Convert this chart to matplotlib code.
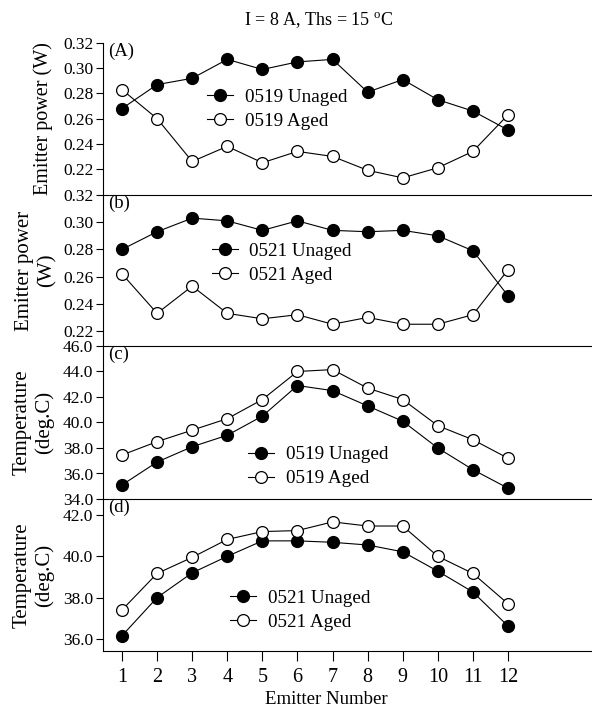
import numpy as np
import matplotlib
matplotlib.use('Agg')
import matplotlib.pyplot as plt

plt.rcParams['font.family'] = ['Liberation Serif', 'DejaVu Serif']
plt.rcParams['mathtext.fontset'] = 'custom'
plt.rcParams['mathtext.rm'] = 'Liberation Serif'

# Datos
emitter = np.arange(1, 13)

# (A) potencia 0519
pow_0519_unaged = [0.268, 0.287, 0.292, 0.307, 0.299, 0.305, 0.307, 0.281, 0.291, 0.275, 0.266, 0.251]
pow_0519_aged = [0.283, 0.260, 0.226, 0.238, 0.225, 0.234, 0.230, 0.219, 0.213, 0.221, 0.234, 0.263]

# (b) potencia 0521
pow_0521_unaged = [0.280, 0.293, 0.303, 0.301, 0.294, 0.301, 0.294, 0.293, 0.294, 0.290, 0.279, 0.246]
pow_0521_aged = [0.262, 0.233, 0.253, 0.233, 0.229, 0.232, 0.225, 0.230, 0.225, 0.225, 0.232, 0.265]

# (c) temperatura 0519
temp_0519_unaged = [35.1, 36.9, 38.1, 39.0, 40.5, 42.9, 42.5, 41.3, 40.1, 38.0, 36.3, 34.85]
temp_0519_aged = [37.45, 38.5, 39.4, 40.3, 41.8, 44.0, 44.15, 42.7, 41.8, 39.75, 38.65, 37.2]

# (d) temperatura 0521
temp_0521_unaged = [36.15, 38.0, 39.2, 40.0, 40.75, 40.75, 40.68, 40.55, 40.22, 39.28, 38.27, 36.62]
temp_0521_aged = [37.4, 39.17, 39.95, 40.82, 41.2, 41.25, 41.67, 41.47, 41.47, 40.0, 39.17, 37.7]

W, H = 592, 713
fig = plt.figure(figsize=(W / 100, H / 100), dpi=100)


def px_axes(top, bottom):
    left = 103
    return fig.add_axes([left / W, 1 - bottom / H, 1 - left / W, (bottom - top) / H])


# limites verticales de cada panel en pixeles
paneles = [
    (43, 195, pow_0519_unaged, pow_0519_aged, '0519', (0.1994, 0.32), np.arange(0.22, 0.321, 0.02), '%.2f',
     'Emitter power (W)', '(A)', (0.213, 0.566), -0.102),
    (195, 346, pow_0521_unaged, pow_0521_aged, '0521', (0.209, 0.32), np.arange(0.22, 0.321, 0.02), '%.2f',
     'Emitter power\n(W)', '(b)', (0.223, 0.547), -0.094),
    (346, 499, temp_0519_unaged, temp_0519_aged, '0519', (34.0, 46.0), np.arange(34, 46.1, 2), '%.1f',
     'Temperature\n(deg.C)', '(c)', (0.297, 0.212), -0.100),
    (499, 651, temp_0521_unaged, temp_0521_aged, '0521', (35.41, 42.78), np.arange(36, 42.1, 2), '%.1f',
     'Temperature\n(deg.C)', '(d)', (0.26, 0.27), -0.100),
]

for i, (top, bottom, unaged, aged, nombre, ylim, yticks, fmt, ylab, letra, legpos, labx) in enumerate(paneles):
    ax = px_axes(top, bottom)
    ax.plot(emitter, unaged, '-o', color='black', lw=0.8, ms=8.5, mfc='black', mec='black',
            label=nombre + ' Unaged')
    ax.plot(emitter, aged, '-o', color='black', lw=0.8, ms=8.5, mfc='white', mec='black', mew=0.9,
            label=nombre + ' Aged')
    ax.set_xlim(0.4585, 14.394)
    ax.set_ylim(*ylim)
    ax.set_yticks(yticks)
    ax.set_yticklabels([fmt % v for v in yticks])
    ax.tick_params(axis='y', direction='out', length=5, width=0.8, labelsize=12.5, pad=2)
    ax.spines['top'].set_visible(False)
    ax.spines['right'].set_visible(False)
    ax.spines['left'].set_linewidth(0.8)
    ax.spines['bottom'].set_linewidth(0.8)
    ax.set_ylabel(ylab, fontsize=14.5 if i == 0 else 15, linespacing=1.3 if i == 1 else 1.2)
    ax.yaxis.set_label_coords(labx, 0.5)
    ax.text(0.01, 1.0, letra, transform=ax.transAxes, ha='left', va='top', fontsize=13.5)
    ax.legend(loc='center left', bbox_to_anchor=legpos, frameon=False, fontsize=13.8,
              handlelength=1.35, handletextpad=0.6, labelspacing=0.35, borderpad=0, borderaxespad=0)
    ax.patch.set_visible(False)
    if i < 3:
        ax.set_xticks([])
    else:
        ax.set_xticks(emitter)
        ax.tick_params(axis='x', direction='out', length=7, width=0.8, labelsize=14.5, pad=5)
        ax.set_xlabel('Emitter Number', fontsize=13.5, labelpad=0)
        # centro de la etiqueta ~ (326, 700) px
        ax.xaxis.label.set_verticalalignment('center')
        ax.xaxis.set_label_coords(0.456, -(700 - 651) / 152)

fig.text(319 / W, 1 - 21 / H, r'I = 8 A, Ths = 15 $^{\mathrm{o}}$C', ha='center', va='center', fontsize=13)

fig.savefig('out.png', dpi=100)
